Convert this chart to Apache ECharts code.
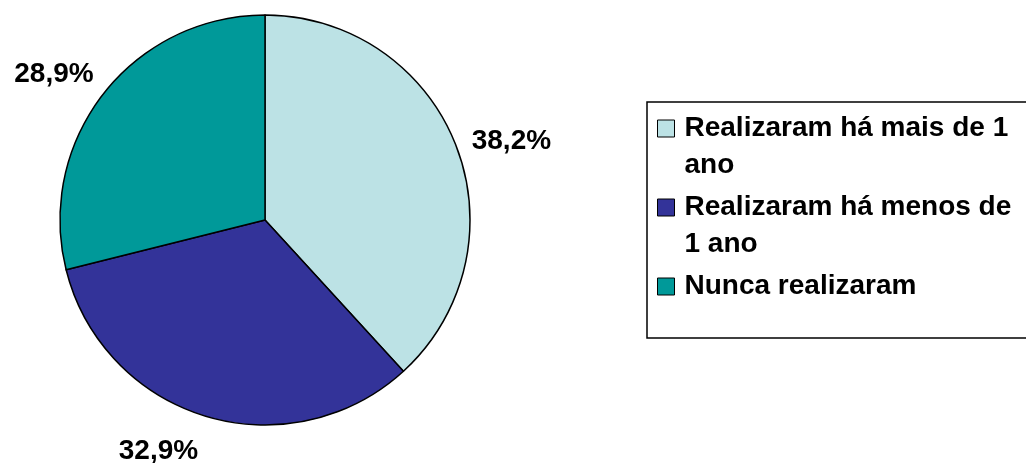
<!DOCTYPE html>
<html lang="pt-BR">
<head>
  <meta charset="UTF-8">
  <title>Realizaram</title>
  <script src="https://cdn.jsdelivr.net/npm/echarts@6/dist/echarts.min.js"></script>
  <style>
    html, body { margin: 0; padding: 0; background: #fff; }
    #main { width: 1026px; height: 463px; }
  </style>
</head>
<body>

<div id="main"></div>

<script>
  // dados
  var categories = ['Realizaram há mais de 1 ano', 'Realizaram há menos de 1 ano', 'Nunca realizaram'];
  var values = [38.2, 32.9, 28.9];
  var colors = ['#BCE2E5', '#333399', '#009999'];
  // texto da legenda quebrado como no original (linha vazia no último para manter o passo)
  var legendText = ['Realizaram há mais de 1\nano', 'Realizaram há menos de\n1 ano', 'Nunca realizaram\n '];

  var font = 'Liberation Sans, Arial, sans-serif';

  var pieData = [];
  for (let i = 0; i < categories.length; i++) {
    pieData.push({ name: categories[i], value: values[i], itemStyle: { color: colors[i] } });
  }

  // ajuste fino dos rótulos
  var nudgeX = [-8, 3, 11];
  var nudgeY = [3, 16, -7];

  echarts.init($('#main')).setOption({
    animation: false,
    color: colors,
    legend: {
      orient: 'vertical',
      left: 647,
      top: 102,
      padding: [7.5, 60, -3.5, 10],
      itemGap: 5,
      itemWidth: 17,
      itemHeight: 53,
      selectedMode: false,
      borderColor: '#000',
      borderWidth: 1.5,
      // quadrado no topo da caixa do item, alinhado com a primeira linha
      icon: 'path://M0,0h17v17h-17Z M8,53L8,53',
      itemStyle: { borderColor: '#000', borderWidth: 1 },
      data: categories,
      formatter: function (name) {
        return legendText[categories.indexOf(name)];
      },
      textStyle: {
        fontFamily: font,
        fontWeight: 'bold',
        fontSize: 28,
        lineHeight: 37,
        color: '#000',
        padding: [0, 0, 0, 5]
      }
    },
    series: [{
      type: 'pie',
      center: [265, 220],
      radius: 205,
      startAngle: 90,
      clockwise: true,
      avoidLabelOverlap: false,
      silent: true,
      itemStyle: { borderColor: '#000', borderWidth: 1.5 },
      label: {
        show: true,
        position: 'outside',
        fontFamily: font,
        fontWeight: 'bold',
        fontSize: 28,
        color: '#000',
        formatter: function (p) {
          return p.value.toFixed(1).replace('.', ',') + '%';
        }
      },
      labelLine: { show: false, length: 20, length2: 0 },
      labelLayout: function (p) {
        return { dx: nudgeX[p.dataIndex], dy: nudgeY[p.dataIndex] };
      },
      data: pieData
    }]
  });

  function $(dom) {
    return document.querySelector(dom)
  }
</script>
</body>
</html>
